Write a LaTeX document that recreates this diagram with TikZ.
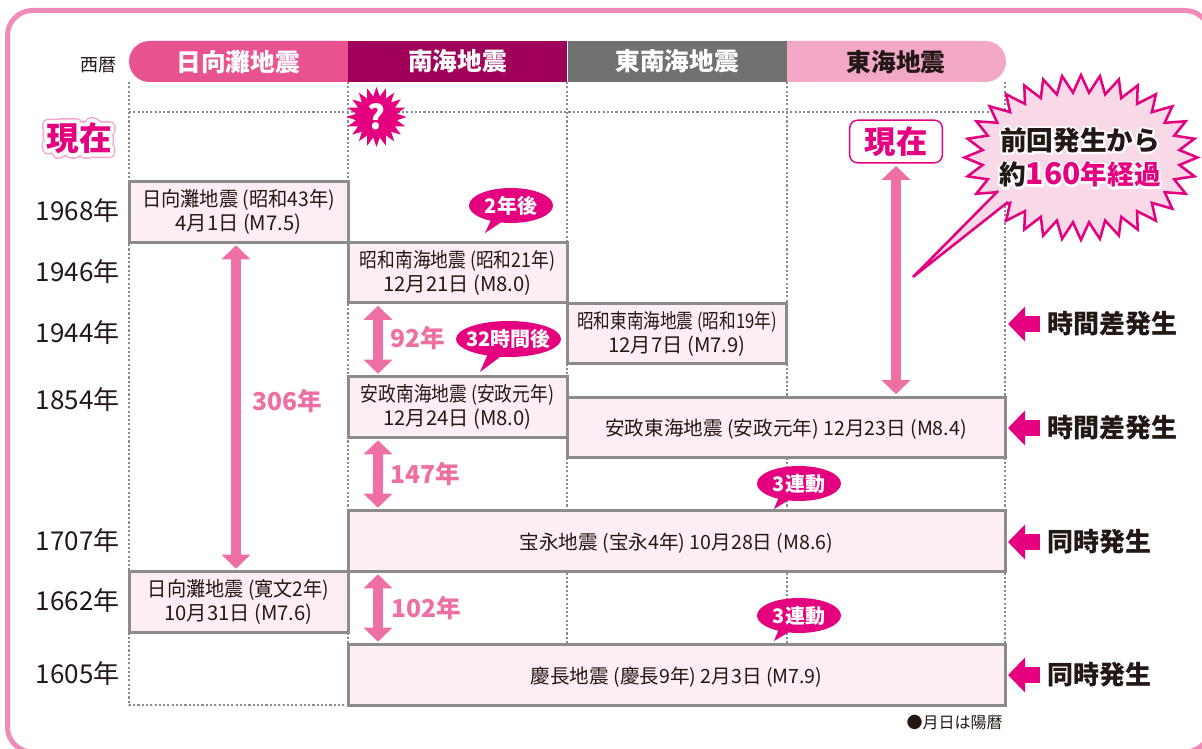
\documentclass[tikz,border=0pt]{standalone}
\usepackage{fontspec}
\usepackage{graphicx}
\setmainfont{Noto Sans CJK JP}
\usetikzlibrary{arrows.meta,shapes.geometric,shapes.callouts}

\definecolor{framepink}{RGB}{240,139,184}
\definecolor{headrose}{RGB}{232,82,143}
\definecolor{headwine}{RGB}{160,0,90}
\definecolor{headgray}{RGB}{113,113,113}
\definecolor{headlight}{RGB}{243,168,200}
\definecolor{boxfill}{RGB}{253,238,245}
\definecolor{boxline}{RGB}{140,140,140}
\definecolor{arrowpink}{RGB}{238,111,163}
\definecolor{magenta}{RGB}{228,0,127}
\definecolor{burstfill}{RGB}{249,217,232}
\definecolor{ink}{RGB}{35,24,21}
\definecolor{halopink}{RGB}{244,166,203}

% outline under a text: colour name, pdf rgb, stroke width, text
\newcommand{\halotext}[4]{\rlap{\special{pdf:code 1 j 1 J 2 Tr #3 w #2 RG}\textcolor{#1}{#4}\special{pdf:code 0 Tr 1 w 0 J 0 j}}}
% narrower first lines of the boxes
\newcommand{\tightline}[2]{\scalebox{#1}[1]{#2}}

\tikzset{every picture/.style={line width=0.75pt}}
\tikzset{
  gridline/.style={draw=boxline,line width=0.9pt,dash pattern=on 1.6pt off 1.6pt},
  cellbox/.style={draw=boxline,fill=boxfill,line width=2.25pt,minimum height=45.4pt,outer sep=0pt,inner sep=0pt,align=center,text=ink,font=\fontsize{15.2}{18}\selectfont},
  onecol/.style={minimum width=164.25pt},
  twocol/.style={minimum width=328.5pt,text height=15pt,text depth=3pt,font=\fontsize{14.7}{18}\selectfont},
  threecol/.style={minimum width=492.75pt,text height=15pt,text depth=3pt,font=\fontsize{14.7}{18}\selectfont},
  headtext/.style={font=\fontsize{18.5}{18.5}\selectfont\bfseries,inner sep=0pt},
  headcell/.style={minimum width=164.25pt,minimum height=30.75pt,inner sep=0pt,outer sep=0pt,text=white,font=\fontsize{18.5}{18.5}\selectfont\bfseries},
  yearlabel/.style={anchor=east,inner sep=0pt,text=ink,font=\fontsize{19.5}{19.5}\selectfont},
  spanlabel/.style={inner sep=0pt,text=arrowpink,font=\fontsize{18.5}{18.5}\selectfont\bfseries},
  reslabel/.style={anchor=west,inner sep=0pt,text=ink,font=\fontsize{19.5}{19.5}\selectfont\bfseries},
  gaparrow/.style={draw=arrowpink,line width=7.5pt,{Triangle[width=21pt,length=10.5pt]}-{Triangle[width=21pt,length=10.5pt]},shorten <=2.25pt,shorten >=2.25pt},
  sendarrow/.style={draw=magenta,line width=12pt,-{Triangle[width=25.5pt,length=12.75pt]},shorten <=5.25pt,shorten >=2.25pt},
  talk/.style={ellipse callout,fill=magenta,inner sep=0pt,outer sep=0pt,minimum width=63pt,minimum height=26.25pt,text=white,font=\fontsize{15}{15}\selectfont\bfseries},
  burstline/.style={draw=magenta,line width=1.9pt,line join=miter},
}

\begin{document}
\begin{tikzpicture}[x=0.75pt,y=0.75pt,yscale=-1,xscale=1]
\useasboundingbox (0,0) rectangle (1202,749);

%Shape: Rounded Rect 
\draw [draw=framepink,line width=3.75pt,rounded corners=18.75pt] (7.5,10.5) rectangle (1210,752);

%Straight Lines 
\draw [gridline] (129,82) -- (129,705) -- (348,705);
\draw [gridline] (348,82) -- (348,705);
\draw [gridline] (567,82) -- (567,645);
\draw [gridline] (787,82) -- (787,645);
\draw [gridline] (1005,82) -- (1005,645);
\draw [gridline] (129,112) -- (1005,112);

%Shape: Header 
\fill [headrose] (348,41) -- (149.5,41) arc (270:90:20.5) -- (348,82) -- cycle;
\fill [headlight] (787,41) -- (985.5,41) arc (270:450:20.5) -- (787,82) -- cycle;
\draw (457.5,61.5) node [headcell,fill=headwine] (headNankai) {南海地震};
\draw (677,61.5) node [headcell,fill=headgray] (headTonankai) {東南海地震};

% Text Node
\draw (238,62) node [headtext,text=white] (headHyuga) {日向灘地震};
% Text Node
\draw (896,62) node [headtext,text=ink] (headTokai) {東海地震};
% Text Node
\draw (117,65) node [anchor=east,inner sep=0pt,text=ink,font=\fontsize{13.5}{13.5}\selectfont] (seireki) {西暦};

% Text Node
\draw (238.5,212) node [cellbox,onecol] (hyuga1968) {\tightline{0.95}{日向灘地震 (昭和43年)}\\4月1日 (M7.5)};
% Text Node
\draw (457.5,272.5) node [cellbox,onecol] (nankai1946) {\tightline{0.875}{昭和南海地震 (昭和21年)}\\12月21日 (M8.0)};
% Text Node
\draw (677,333.5) node [cellbox,onecol] (tonankai1944) {\tightline{0.82}{昭和東南海地震 (昭和19年)}\\12月7日 (M7.9)};
% Text Node
\draw (457.5,407) node [cellbox,onecol] (nankai1854) {\tightline{0.875}{安政南海地震 (安政元年)}\\12月24日 (M8.0)};
% Text Node
\draw (786,427.5) node [cellbox,twocol] (tokai1854) {安政東海地震 (安政元年) 12月23日 (M8.4)};
% Text Node
\draw (676.5,541) node [cellbox,threecol] (hoei1707) {宝永地震 (宝永4年) 10月28日 (M8.6)};
% Text Node
\draw (238.5,602) node [cellbox,onecol] (hyuga1662) {\tightline{0.945}{日向灘地震 (寛文2年)}\\10月31日 (M7.6)};
% Text Node
\draw (676.5,675) node [cellbox,threecol] (keicho1605) {慶長地震 (慶長9年) 2月3日 (M7.9)};

% Text Node
\draw (120,211) node [yearlabel] (year1968) {1968年};
% Text Node
\draw (120,272) node [yearlabel] (year1946) {1946年};
% Text Node
\draw (120,333) node [yearlabel] (year1944) {1944年};
% Text Node
\draw (120,400) node [yearlabel] (year1854) {1854年};
% Text Node
\draw (120,541) node [yearlabel] (year1707) {1707年};
% Text Node
\draw (120,601) node [yearlabel] (year1662) {1662年};
% Text Node
\draw (120,674) node [yearlabel] (year1605) {1605年};

% Text Node
\draw (79,138) node [inner sep=0pt,text=magenta,font=\fontsize{24.5}{24.5}\selectfont\bfseries] (nowLeft) {\halotext{halopink}{0.957 0.651 0.796}{8.2}{現在}\halotext{white}{1 1 1}{6}{現在}現在};
% Text Node
\draw (896,141.5) node [draw=magenta,fill=white,rounded corners=6pt,line width=1.1pt,minimum width=69.5pt,minimum height=32pt,inner sep=0pt,outer sep=0pt,text=magenta,font=\fontsize{23.5}{23.5}\selectfont\bfseries] (nowRight) {現在};

%Straight Lines 
\draw [gaparrow] ([xshift=-1.9pt]hyuga1968.south) -- ([xshift=-1.9pt]hyuga1662.north);
\draw [gaparrow] ([xshift=-59.6pt]nankai1946.south) -- ([xshift=-59.6pt]nankai1854.north);
\draw [gaparrow] ([xshift=-59.6pt]nankai1854.south) -- ([xshift=-223.9pt]hoei1707.north);
\draw [gaparrow] ([xshift=-223.9pt]hoei1707.south) -- ([xshift=-223.9pt]keicho1605.north);
\draw [gaparrow] (nowRight.south) -- (nowRight.south |- tokai1854.north);

% Text Node
\draw (287,401) node [spanlabel] (span306) {306年};
% Text Node
\draw (418,338) node [spanlabel] (span92) {92年};
% Text Node
\draw (425,474) node [spanlabel] (span147) {147年};
% Text Node
\draw (426,608) node [spanlabel] (span102) {102年};

% Text Node
\draw (511,205.5) node [talk,callout absolute pointer={(485,233)}] (talkTwo) {2年後};
% Text Node
\draw (508.5,339) node [talk,minimum width=78.75pt,minimum height=27pt,callout absolute pointer={(480,372)}] (talkHours) {\makebox[0pt]{32時間後}};
% Text Node
\draw (799,483.5) node [talk,callout absolute pointer={(774,509)}] (talkLinkA) {3連動};
% Text Node
\draw (799,615.5) node [talk,callout absolute pointer={(774,641)}] (talkLinkB) {3連動};

% Text Node
\draw (376.5,117) node [star,star points=20,star point ratio=1.45,fill=magenta,minimum size=45pt,inner sep=0pt,text=white,font=\fontsize{25}{25}\selectfont\bfseries] (askBurst) {?};

%Shape: Polygon 
\draw [burstline,fill=burstfill] plot [samples at={0,...,63},variable=\i] ({1081+(mod(\i,2)==0?116.5:99)*cos(\i*5.625+5*sin(2*\i*5.625))},{157.5+(mod(\i,2)==0?82.5:65)*sin(\i*5.625+5*sin(2*\i*5.625))}) -- cycle;
\fill [burstfill] (998,191) -- (913,277) -- (1008,202) -- (1025,190) -- cycle;
\draw [burstline] (998,191) -- (913,277) -- (1008,202);

% Text Node
\draw (1080,157.5) node [inner sep=0pt,align=center,text=ink,font=\fontsize{20}{26}\selectfont\bfseries] (elapsed) {\halotext{white}{1 1 1}{3}{前回発生から}前回発生から\\\halotext{white}{1 1 1}{3}{約{\fontsize{22.5}{26}\selectfont 160}年経過}約\textcolor{magenta}{{\fontsize{22.5}{26}\selectfont 160}年経過}};

% Text Node
\draw (1047,324) node [reslabel] (lag1944) {時間差発生};
% Text Node
\draw (1047,428) node [reslabel] (lag1854) {時間差発生};
% Text Node
\draw (1047,542) node [reslabel] (same1707) {同時発生};
% Text Node
\draw (1047,675) node [reslabel] (same1605) {同時発生};

%Straight Lines 
\draw [sendarrow] (lag1944.west) -- (lag1944.west -| tokai1854.east);
\draw [sendarrow] (lag1854.west) -- (lag1854.west -| tokai1854.east);
\draw [sendarrow] (same1707.west) -- (same1707.west -| hoei1707.east);
\draw [sendarrow] (same1605.west) -- (same1605.west -| keicho1605.east);

% Text Node
\draw (1003,722) node [anchor=east,inner sep=0pt,text=ink,font=\fontsize{12}{12}\selectfont] (note) {●月日は陽暦};

\end{tikzpicture}
\end{document}
